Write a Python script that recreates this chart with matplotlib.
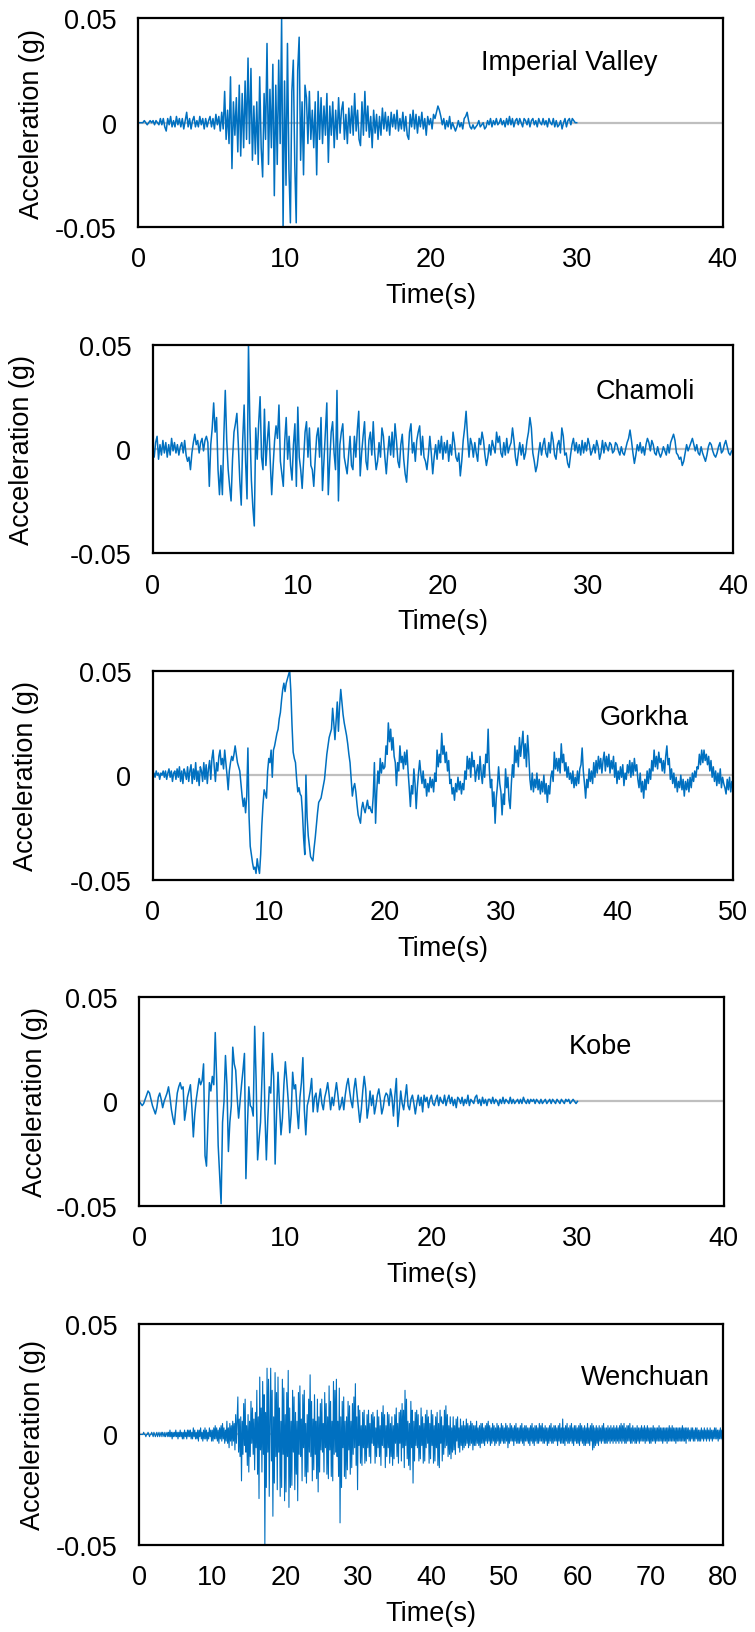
import numpy as np
import matplotlib
matplotlib.use("Agg")
import matplotlib.pyplot as plt

DT = 0.1  # s, spacing of the digitised samples

# ground acceleration, in units of 0.001 g, one row per second
imperial_valley = [
    0, 0, 0, 0, 1, 0, -1, 0, 1, 0,
    1, -1, 1, 0, -1, 2, -1, 2, -2, -4,
    2, -1, 3, -2, 1, -2, 3, -1, 2, -2,
    2, -3, 1, 5, -2, 2, -3, 1, 3, -2,
    1, -2, 3, -1, 2, -3, 2, -2, 1, 3,
    -2, 2, -3, 4, -1, 3, -4, 5, -3, 15,
    -8, 6, -10, 22, -22, 10, -6, 12, -14, 18,
    -16, 14, -12, 20, -8, 31, -10, 26, -18, 8,
    -15, 10, -20, 22, -12, -26, 14, -8, 38, -20,
    16, -12, 28, -35, 18, -20, 30, -10, 50, -50,
    20, -30, 38, -22, -48, 15, 30, -20, -48, 25,
    41, -18, 10, -25, 18, 12, -10, 15, -8, 6,
    -12, 10, -25, 15, -8, 12, -10, 8, -6, 14,
    -19, 8, -6, 10, -12, 6, -8, 12, -5, 6,
    10, -8, 4, -10, 7, -5, 8, -6, 14, -4,
    6, -8, -11, 10, -6, 15, -4, 8, -7, 3,
    -12, 6, -5, 4, -8, 3, -6, 7, -3, 5,
    -4, 3, -6, 5, -2, 4, -3, 6, -4, 2,
    -3, 5, -4, 3, -6, -8, 4, -2, 6, -3,
    4, -5, 3, -2, 5, -3, 2, -6, 3, -1,
    2, -3, 4, 2, 5, 8, 6, 3, -1, 2,
    -3, 1, -2, 3, -3, 0, -2, -4, -2, 1,
    -2, 0, -3, 2, 3, 5, 1, -2, -3, -1,
    -3, -2, -1, 1, -2, -1, 0, -3, -2, 1,
    -1, 2, -2, 1, -1, 2, -1, 0, 2, -1,
    1, -2, 2, -1, 3, -1, 2, -2, 1, 2,
    -1, 2, 0, -2, 2, 1, -1, 2, -2, 1,
    2, -1, 1, -2, 2, 0, -1, 2, -1, 1,
    -2, 2, 0, -1, 2, -2, 1, -2, -1, 1,
    -3, 0, 2, -2, 1, 2, -1, 2, 1, 0,
    0,
]

chamoli = [
    0, -4, 3, 6, -5, 2, -3, 4, -2, 3,
    -4, 2, -3, 5, -1, 3, -2, 2, -3, 1,
    3, -2, 4, -3, -6, -4, -10, -2, 3, 7,
    2, 4, -2, 3, 5, -1, 4, 6, 3, -18,
    2, 10, 22, 8, 15, -10, -22, -8, -22, 6,
    28, 4, -10, -18, -25, -5, 8, 12, 17, 2,
    -15, -27, 4, 21, -6, -24, 50, 10, -15, -28,
    -37, 10, -5, 12, 25, -4, -10, 19, -8, 4,
    13, -6, -22, -8, 4, 11, 5, 21, -6, -12,
    -18, 4, 15, -5, 6, -8, -15, 2, 12, -18,
    20, -4, -10, -19, -5, 8, 13, -4, 10, -8,
    -10, -18, -5, 6, 10, -4, 15, -20, -6, 8,
    22, -22, -6, 8, 13, -2, -10, 28, -25, 2,
    8, 12, -4, -8, -12, -3, 6, -8, -10, 6,
    -4, 9, 18, -13, -2, 6, 13, -6, -10, 4,
    8, -3, 13, -2, -10, -6, 3, -4, 10, 6,
    -4, -12, -2, 6, -3, 8, -4, 12, 4, -6,
    -9, 2, 7, -5, -12, -16, -4, 8, 12, -2,
    3, -6, 4, 8, 11, -3, 6, -4, -6, -10,
    -3, 6, -2, -12, -4, 2, -5, 4, -2, 6,
    -5, 3, -2, 4, -6, 2, -3, 8, 3, -4,
    -6, -2, -13, -6, 4, 10, 18, 6, -4, 5,
    2, -4, 3, -2, -6, 5, 2, 8, 4, -3,
    -8, -4, 2, -3, 4, 1, -2, 8, 3, 6,
    -2, -4, 3, -3, 5, -2, 1, 3, 10, 4,
    -4, -8, -2, 3, -3, 2, -5, -2, 4, 8,
    15, 10, -2, -6, -11, -8, -2, 3, -3, 2,
    5, -2, -4, 3, -2, 8, 4, -3, -5, 2,
    4, -2, 10, 6, -3, -2, -7, -9, -3, 2,
    5, -1, 3, -2, 2, -3, 4, -2, 3, -1,
    5, 2, -3, -1, 2, -2, 4, 1, -5, -2,
    4, -2, 3, 1, -1, 3, 2, -2, -1, 3,
    2, -1, -3, 1, -2, -3, 0, 3, 5, 9,
    4, -2, -7, -3, 2, -1, 3, -2, 1, -3,
    2, 5, 3, -1, 4, 2, -2, -3, 1, -2,
    -4, -2, 1, -1, -3, 2, -2, 3, 5, 7,
    4, -2, -3, -5, -4, -8, -6, -2, 2, -1,
    1, 3, 5, 2, -1, 2, -2, -3, 1, -2,
    -4, -6, -3, 1, 3, 2, -1, -3, -4, -2,
    1, 3, -2, -1, 2, 4, 1, -2, -3, -1,
    -1,
]

gorkha = [
    0, 1, -1, 2, 0, 1, -2, 1, 0, 2,
    -1, 2, -2, 1, 3, -1, 2, -3, 1, 2,
    -2, 3, -1, 4, -3, 2, -4, 3, 1, -2,
    4, -3, 2, 5, -4, 3, -2, 6, -3, 2,
    -5, 4, 2, -3, 6, -2, 5, -4, 3, 7,
    -2, 8, 12, 4, -3, 6, 2, 9, 12, 5,
    8, 3, 12, 6, 0, -7, 2, 6, 9, 7,
    10, 14, 10, 6, 4, 2, -4, -10, -15, -11,
    -18, -10, 13, -20, -34, -38, -42, -45, -44, -47,
    -40, -44, -47, -38, -24, -14, -7, -9, -11, 2,
    8, 6, 12, -1, 12, 14, 17, 20, 22, 27,
    30, 36, 41, 44, 40, 44, 46, 48, 50, 40,
    24, 11, 8, 6, -2, -8, -6, -9, -10, -18,
    -30, -38, 0, -20, -29, -34, -39, -40, -41, -35,
    -30, -24, -18, -13, -12, -11, -8, -5, -2, 4,
    10, 14, 18, 20, 22, 32, 25, 17, 26, 35,
    21, 33, 41, 35, 29, 25, 22, 19, 15, 10,
    6, -2, -10, -6, -4, -8, -14, -19, -21, -23,
    -16, -13, -16, -18, -15, -12, -16, -15, -17, -18,
    -10, 6, -23, -8, 2, -4, 8, 1, 6, 3,
    4, 14, 10, 25, 16, 22, 12, 18, 9, 6,
    -5, 6, 2, 14, 6, 9, 3, 11, 5, 12,
    2, -6, -15, -5, -9, 3, -4, -16, -6, 1,
    7, 1, -4, 2, -6, -2, -10, -4, -8, -1,
    -6, -2, -8, 1, -3, 12, 4, 10, 6, 20,
    10, 14, 6, 11, 2, 7, -4, -2, -9, -6,
    -12, -4, -8, -1, -7, -3, -9, -4, -7, 2,
    -2, 9, 3, 8, -1, 11, 4, 7, -3, 2,
    5, -2, 9, 1, -4, 5, -1, 10, 6, 22,
    3, -6, -2, -15, -8, -23, -11, -5, 4, -4,
    -8, -19, -9, -14, 3, -6, -1, -12, -16, -4,
    5, -1, 14, 6, 12, 4, 18, 9, 15, 21,
    8, 15, 4, 19, 10, -2, -7, 1, -8, -2,
    -6, 1, -7, -2, -9, -3, -8, 0, -9, -4,
    -13, -5, -9, -1, 2, -3, 11, 3, 8, 2,
    8, 1, 15, 6, 10, 2, 6, -1, 4, -2,
    1, -4, 2, -6, -1, -5, 2, -4, 3, 5,
    13, 2, -4, -11, -2, -6, 3, -3, 2, -4,
    6, -1, 7, 1, 9, 3, 8, 1, 7, 11,
    2, 9, 4, 10, 1, 7, 3, 9, -1, 6,
    -4, 2, -2, 4, -1, 5, -5, 1, -2, 5,
    1, 7, -1, 6, 0, 8, 2, 5, -2, -6,
    1, -8, -3, -11, -2, -7, 2, -4, 3, -2,
    7, 2, 12, 4, 9, 3, 11, 6, 8, 2,
    7, 1, 9, 14, 5, 8, -2, 3, -4, 1,
    -6, -1, -8, -3, -6, 0, -7, -2, -10, -3,
    -7, -2, -8, -1, -6, 1, -3, 2, -1, 4,
    3, 10, 5, 12, 6, 12, 7, 10, 5, 9,
    2, 7, -1, 4, -3, 2, -5, 1, -4, 3,
    -6, -1, -4, -6, -9, -2, -7, -1, -8, -3,
    -6,
]

kobe = [
    0, -1, -2, -1, 1, 3, 5, 4, 1, -2,
    -4, -6, -3, 2, 4, 1, -3, 0, 2, 4,
    7, 2, -4, -8, -11, -3, 4, 7, 9, 6,
    7, -9, -4, 2, 5, 8, -3, -17, -6, 1,
    6, 11, 8, 10, 18, -26, -31, -10, 9, 5,
    12, 8, 33, 10, -21, -35, -49, -10, 0, 22,
    8, -24, -10, -2, 26, 18, 15, 2, -8, 0,
    8, 15, 23, -37, -12, 7, -2, -3, -7, 36,
    10, -28, -18, -10, 12, 33, -5, -28, -8, 7,
    4, 23, 12, -30, -5, 14, -2, -16, -8, 8,
    19, 10, 0, -15, -6, 14, 6, 8, -4, -13,
    2, 9, 21, -4, -16, -2, 1, 5, 11, -5,
    2, 4, -5, 1, 6, -1, -4, 2, 5, 9,
    3, -4, 2, -2, 4, 9, 3, -4, -2, 2,
    -4, 3, 8, 11, 5, 0, -3, 6, 11, 4,
    -3, -10, -4, 5, 12, 6, -8, -3, 5, -2,
    3, -6, -2, 3, 6, 1, -6, -3, 2, 4,
    3, -2, 6, 2, -7, 3, 11, -12, -4, 5,
    -1, -4, 2, 8, -2, -4, 1, 3, -1, -6,
    -1, 3, -2, 2, -5, 3, 0, 2, -3, 1,
    3, -1, -2, 1, 3, -2, 2, 0, -1, 3,
    -2, 1, 3, -1, 2, -2, 1, -3, 2, 1,
    -1, 2, -2, 1, -1, 3, -2, 1, 0, -1,
    2, 3, -1, 1, -2, 2, -1, 1, -2, 1,
    1, -1, 2, -1, 1, 0, -2, 1, -1, 2,
    -1, 1, 0, -1, 2, -1, 1, -1, 0, 1,
    -1, 1, -1, 2, 0, -1, 1, -1, 1, 0,
    1, -1, 1, 0, -1, 1, -1, 0, 1, -1,
    0, 1, -1, 1, 0, -1, 1, 0, -1, 1,
    0, -1, 1, 0, 1, -1, 0, 1, 0, -1,
    0,
]

wenchuan = [
    0, 0, 0, 0, 0, 0, 1, 0, 0, -1,
    0, 0, 1, 0, -1, 0, 0, 1, 0, -1,
    1, 0, -1, 0, 1, -1, 0, 1, -1, 0,
    1, -1, 1, 0, -1, 1, -1, 0, 1, -1,
    1, -1, 2, -1, 1, -2, 1, -1, 1, -1,
    2, -1, 1, -2, 1, -1, 2, -1, 1, -2,
    1, -2, 2, -1, 1, -2, 2, -1, 2, -1,
    2, -2, 1, -2, 3, -1, 2, -2, 1, -2,
    2, -3, 2, -1, 3, -2, 1, -3, 2, -2,
    3, -2, 2, -3, 1, -2, 3, -1, 2, -3,
    2, -3, 3, -2, 4, -2, 3, -3, 2, -4,
    3, -2, 4, -3, 5, -2, 3, -4, 2, -3,
    6, -4, 3, -6, 5, -3, 4, -5, 6, -3,
    5, -7, 9, -4, 6, 17, -8, 7, -10, 8,
    -21, 6, -9, 14, -5, 16, -8, 4, -14, 9,
    -17, 6, -10, 15, -4, 12, -9, 7, -16, 10,
    -6, 20, -18, 8, -29, 26, -7, 12, -17, 24,
    -9, 18, -50, 10, -24, 30, -8, 25, -28, 6,
    30, -12, 20, -37, 8, -22, 28, -10, 19, -25,
    26, -8, 12, -28, 6, -24, 25, -9, 21, -30,
    9, -26, 19, -10, 29, -33, 12, -24, 6, -23,
    20, -8, 17, -25, 10, -18, 6, -30, 19, -9,
    22, -10, 7, -21, 18, -6, 20, -19, 5, -22,
    9, -17, 16, -8, 27, -10, 15, -21, 7, -16,
    18, -9, 6, -20, 16, -26, 8, -17, 14, -7,
    16, -8, 5, -17, 19, -6, 14, -18, 8, -20,
    22, -7, 15, -19, 6, -21, 24, -9, 20, -8,
    25, -10, 6, -19, 21, -40, 8, -24, 15, -6,
    17, -19, 6, -20, 8, -16, 15, -7, 13, -18,
    6, -15, 14, -9, 17, -6, 23, -14, 8, -25,
    13, -5, 11, -13, 4, -14, 10, -6, 11, -13,
    4, -12, 9, -6, 11, -10, 5, -13, 9, -4,
    10, -5, 8, -13, 3, -10, 11, -6, 8, -10,
    4, -14, 10, -5, 13, -6, 9, -15, 4, -10,
    10, -6, 9, -13, 5, -10, 8, -14, 4, -11,
    9, -4, 12, -10, 5, -13, 10, -4, 11, -12,
    14, -6, 11, -15, 20, -5, 16, -11, 6, -14,
    5, -16, 15, -6, 11, -22, 6, -12, 10, -5,
    11, -6, 9, -12, 4, -11, 12, -5, 8, -13,
    5, -12, 9, -6, 11, -4, 8, -13, 5, -11,
    11, -5, 9, -13, 4, -12, 8, -6, 10, -14,
    5, -15, 11, -4, 8, -12, 4, -9, 11, -6,
    13, -5, 9, -10, 4, -9, 8, -11, 3, -8,
    8, -7, 4, -9, 7, -3, 8, -6, 3, -8,
    7, -5, 4, -7, 6, -6, 4, -5, 7, -4,
    5, -6, 4, -5, 6, -4, 5, -7, 4, -5,
    4, -5, 6, -4, 3, -5, 4, -6, 5, -4,
    5, -4, 3, -5, 4, -3, 5, -4, 6, -3,
    4, -5, 3, -4, 5, -3, 4, -5, 3, -4,
    5, -3, 4, -5, 3, -4, 5, -3, 4, -4,
    3, -4, 5, -3, 4, -6, 3, -4, 5, -3,
    4, -3, 3, -5, 4, -3, 5, -4, 3, -4,
    3, -4, 4, -3, 5, -4, 3, -5, 4, -3,
    4, -3, 3, -4, 3, -5, 4, -3, 5, -4,
    3, -5, 4, -3, 4, -4, 3, -4, 5, -3,
    4, -3, 5, -4, 3, -4, 4, -3, 3, -5,
    3, -4, 4, -3, 5, -4, 3, -4, 4, -3,
    4, -3, 3, -5, 4, -3, 5, -4, 3, -4,
    7, -4, 3, -5, 4, -3, 5, -4, 3, -4,
    4, -3, 5, -4, 3, -5, 4, -3, 4, -4,
    3, -4, 4, -5, 5, -3, 4, -4, 3, -5,
    4, -5, 3, -4, 5, -4, 3, -5, 4, -3,
    5, -7, 4, -6, 3, -5, 4, -4, 3, -5,
    4, -3, 3, -4, 4, -3, 5, -4, 3, -4,
    3, -4, 4, -3, 3, -4, 4, -3, 3, -4,
    4, -3, 3, -4, 4, -3, 3, -4, 4, -3,
    5, -4, 4, -3, 5, -4, 3, -4, 4, -3,
    4, -3, 5, -4, 3, -4, 4, -3, 3, -4,
    3, -4, 4, -3, 3, -4, 3, -3, 4, -3,
    3, -3, 4, -4, 3, -3, 4, -3, 3, -4,
    3, -4, 3, -3, 4, -3, 3, -4, 3, -3,
    3, -3, 4, -3, 3, -3, 3, -4, 3, -3,
    3, -3, 3, -4, 3, -3, 4, -3, 3, -3,
    4, -3, 3, -3, 3, -4, 3, -3, 3, -3,
    3, -3, 3, -3, 4, -3, 3, -3, 3, -4,
    3, -2, 3, -3, 2, -3, 3, -2, 3, -3,
    2, -3, 3, -2, 3, -3, 2, -3, 2, -3,
    3, -2, 2, -3, 3, -2, 2, -3, 3, -2,
    2, -3, 3, -2, 2, -3, 2, -2, 3, -2,
    3, -2, 2, -3, 2, -2, 3, -2, 2, -3,
    1,
]

record_names = ["Imperial Valley", "Chamoli", "Gorkha", "Kobe", "Wenchuan"]
records = [imperial_valley, chamoli, gorkha, kobe, wenchuan]
time_max = [40, 40, 50, 40, 80]
y_ticks = [-0.05, 0, 0.05]
y_tick_labels = ["-0.05", "0", "0.05"]

# axes boxes in figure fraction: left, bottom, width, height
boxes = [
    (0.1834, 0.8604, 0.7739, 0.1277),
    (0.2023, 0.6607, 0.7686, 0.1277),
    (0.2023, 0.4607, 0.7686, 0.1280),
    (0.1845, 0.2610, 0.7738, 0.1278),
    (0.1845, 0.0533, 0.7735, 0.1353),
]
ylabel_x = [-0.160, -0.203, -0.196, -0.157, -0.159]
name_xy = [(0.737, 0.791), (0.849, 0.777), (0.847, 0.777), (0.790, 0.765), (0.866, 0.759)]
line_w = [1.1, 1.1, 1.1, 1.1, 0.8]

plt.rcParams["font.family"] = ["Liberation Sans", "DejaVu Sans"]
plt.rcParams["font.size"] = 19.5

fig = plt.figure(figsize=(7.55, 16.33), dpi=100)

for i, (name, acc) in enumerate(zip(record_names, records)):
    ax = fig.add_axes(boxes[i])
    a = np.asarray(acc, dtype=float) / 1000.0  # -> g
    t = np.arange(len(a)) * DT
    ax.axhline(0, color="#bfbfbf", lw=1.6, zorder=1)
    ax.plot(t, a, color="#0070c0", lw=line_w[i], zorder=2)

    ax.set_xlim(0, time_max[i])
    ax.set_ylim(-0.05, 0.05)
    ax.set_xticks(np.arange(0, time_max[i] + 1, 10))
    ax.set_yticks(y_ticks, y_tick_labels)
    ax.tick_params(axis="x", length=0, pad=14)
    ax.tick_params(axis="y", length=0, pad=15.5)
    for sp in ax.spines.values():
        sp.set_linewidth(1.6)
        sp.set_color("black")

    ax.set_xlabel("Time(s)", labelpad=7)
    ax.set_ylabel("Acceleration (g)")
    ax.yaxis.set_label_coords(ylabel_x[i], 0.5)
    ax.text(name_xy[i][0], name_xy[i][1], name, transform=ax.transAxes,
            ha="center", va="center")

fig.savefig("out.png", dpi=100)
